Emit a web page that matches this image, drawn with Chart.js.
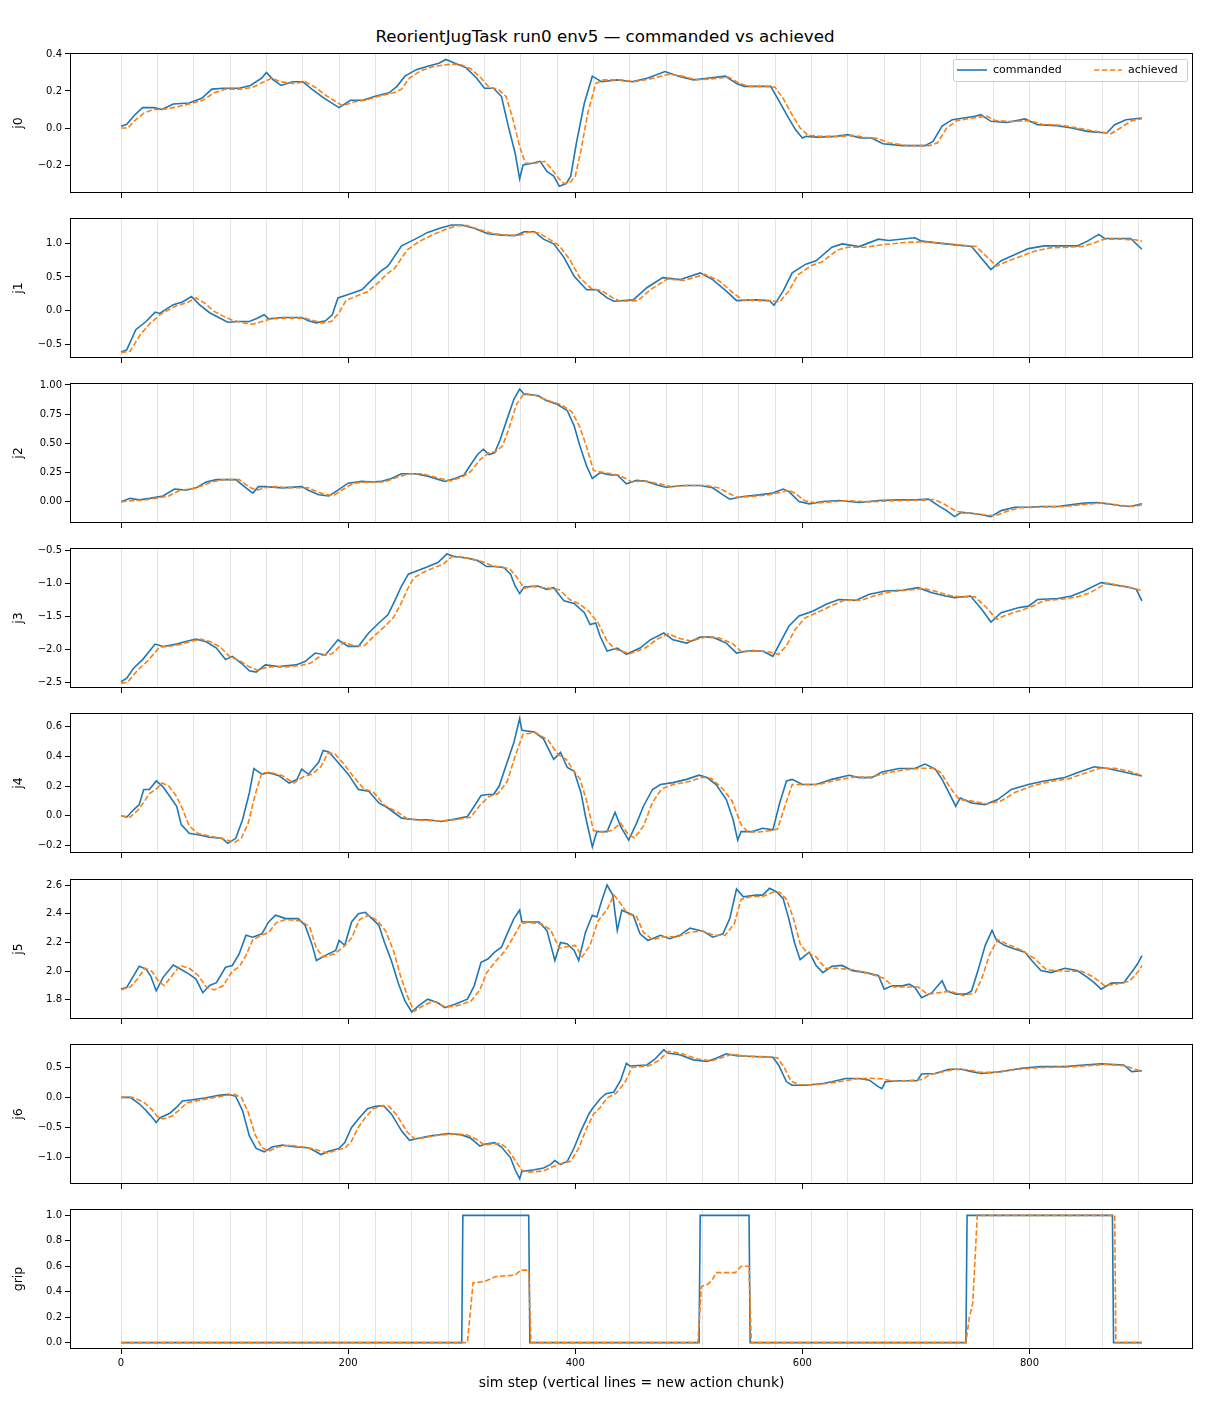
<!DOCTYPE html>
<html>
<head>
<meta charset="utf-8">
<script src="https://cdn.jsdelivr.net/npm/chart.js@4.4.1/dist/chart.umd.min.js"></script>
<style>
  body { margin: 0; background: #fff; width: 1210px; height: 1408px; position: relative; overflow: hidden; font-family: "DejaVu Sans", sans-serif; }
  #title { position: absolute; top: 26px; left: 0; width: 1210px; text-align: center; font-size: 16.7px; line-height: 20px; color: #000; }
  canvas { position: absolute; left: 0; }
</style>
</head>
<body>
<div id="title">ReorientJugTask run0 env5 — commanded vs achieved</div>
<script>
// [step, value]
const j0Cmd = [[0,0.01],[5,0.02],[12,0.07],[19,0.11],[29,0.11],[36,0.10],[46,0.13],[60,0.135],[71,0.16],[80,0.21],[90,0.215],[104,0.215],[114,0.23],[124,0.27],[128,0.30],[134,0.26],[141,0.23],[151,0.25],[160,0.25],[168,0.21],[179,0.16],[192,0.11],[202,0.15],[213,0.15],[223,0.17],[236,0.19],[243,0.225],[250,0.28],[260,0.315],[270,0.333],[280,0.35],[286,0.37],[294,0.35],[304,0.325],[313,0.27],[320,0.215],[328,0.215],[335,0.17],[341,0.01],[347,-0.135],[351,-0.275],[354,-0.20],[362,-0.19],[369,-0.18],[375,-0.235],[381,-0.26],[386,-0.315],[392,-0.30],[396,-0.26],[401,-0.08],[408,0.135],[415,0.28],[423,0.25],[437,0.26],[450,0.25],[464,0.27],[479,0.305],[491,0.28],[504,0.26],[518,0.27],[532,0.28],[542,0.24],[549,0.225],[562,0.225],[572,0.225],[579,0.15],[587,0.063],[594,-0.01],[600,-0.054],[603,-0.045],[613,-0.049],[630,-0.045],[640,-0.036],[651,-0.054],[661,-0.054],[671,-0.085],[688,-0.095],[708,-0.095],[715,-0.072],[723,0.01],[732,0.045],[742,0.054],[752,0.063],[757,0.072],[766,0.036],[780,0.03],[796,0.049],[807,0.018],[824,0.013],[837,0.0],[851,-0.018],[868,-0.027],[875,0.018],[885,0.045],[899,0.054]];
const j0Ach = [[0,0.0],[6,0.0],[12,0.04],[20,0.08],[28,0.10],[36,0.10],[46,0.11],[60,0.13],[72,0.15],[82,0.19],[92,0.21],[106,0.21],[116,0.22],[126,0.25],[133,0.27],[140,0.25],[152,0.24],[162,0.25],[171,0.22],[182,0.17],[195,0.12],[205,0.14],[215,0.15],[226,0.17],[240,0.19],[247,0.21],[254,0.27],[264,0.31],[274,0.33],[284,0.34],[292,0.345],[300,0.34],[308,0.32],[317,0.27],[324,0.22],[332,0.21],[339,0.17],[345,0.05],[351,-0.10],[356,-0.19],[365,-0.19],[373,-0.18],[379,-0.22],[385,-0.27],[390,-0.30],[396,-0.29],[400,-0.26],[405,-0.12],[411,0.08],[418,0.24],[425,0.26],[440,0.26],[452,0.25],[466,0.265],[482,0.29],[494,0.28],[506,0.26],[520,0.265],[535,0.275],[545,0.24],[553,0.225],[566,0.225],[576,0.22],[583,0.16],[591,0.07],[598,0.0],[605,-0.04],[616,-0.045],[634,-0.045],[644,-0.04],[655,-0.05],[665,-0.055],[676,-0.08],[692,-0.095],[712,-0.095],[719,-0.08],[727,0.0],[736,0.04],[746,0.05],[757,0.06],[762,0.065],[770,0.04],[784,0.035],[800,0.04],[811,0.02],[828,0.015],[842,0.0],[855,-0.015],[872,-0.03],[880,0.0],[890,0.04],[899,0.05]];

const j1Cmd = [[0,-0.61],[5,-0.58],[13,-0.28],[22,-0.16],[30,-0.02],[34,-0.04],[46,0.09],[54,0.13],[62,0.21],[69,0.09],[78,-0.03],[86,-0.10],[94,-0.17],[104,-0.16],[113,-0.16],[120,-0.11],[126,-0.06],[130,-0.12],[142,-0.10],[159,-0.10],[165,-0.15],[172,-0.18],[180,-0.15],[186,-0.06],[191,0.19],[200,0.24],[212,0.31],[221,0.46],[229,0.59],[235,0.66],[247,0.96],[259,1.06],[270,1.16],[282,1.23],[291,1.27],[300,1.27],[311,1.22],[323,1.14],[335,1.12],[347,1.11],[355,1.17],[364,1.17],[372,1.06],[381,0.99],[390,0.79],[399,0.51],[410,0.31],[419,0.31],[428,0.19],[434,0.14],[451,0.16],[463,0.34],[477,0.49],[492,0.46],[510,0.56],[521,0.46],[533,0.29],[542,0.15],[559,0.16],[571,0.15],[575,0.08],[583,0.29],[591,0.56],[603,0.69],[612,0.74],[626,0.94],[635,0.99],[650,0.95],[667,1.06],[676,1.04],[699,1.08],[705,1.03],[726,0.99],[749,0.95],[766,0.61],[775,0.74],[799,0.92],[813,0.96],[842,0.96],[851,1.03],[861,1.13],[866,1.07],[889,1.07],[899,0.91]];
const j1Ach = [[0,-0.62],[8,-0.60],[17,-0.35],[26,-0.18],[35,-0.05],[48,0.07],[58,0.12],[66,0.19],[73,0.12],[82,-0.01],[90,-0.08],[98,-0.14],[108,-0.18],[116,-0.20],[124,-0.16],[132,-0.12],[145,-0.11],[162,-0.11],[170,-0.15],[177,-0.18],[185,-0.16],[192,-0.03],[198,0.15],[206,0.21],[217,0.28],[226,0.41],[234,0.54],[241,0.63],[252,0.90],[263,1.03],[275,1.13],[287,1.21],[296,1.26],[305,1.26],[316,1.20],[328,1.14],[340,1.12],[351,1.12],[360,1.17],[368,1.15],[377,1.06],[386,0.96],[395,0.76],[404,0.49],[414,0.33],[423,0.30],[433,0.19],[440,0.14],[455,0.15],[467,0.32],[481,0.47],[496,0.45],[514,0.54],[526,0.45],[538,0.28],[547,0.16],[564,0.15],[576,0.14],[580,0.13],[588,0.29],[596,0.53],[608,0.67],[617,0.72],[631,0.90],[640,0.94],[655,0.94],[672,0.98],[690,1.01],[705,1.02],[730,0.99],[753,0.95],[771,0.66],[780,0.73],[804,0.88],[818,0.93],[846,0.95],[856,1.00],[866,1.06],[880,1.06],[893,1.05],[899,1.03]];

const j2Cmd = [[0,0.0],[8,0.03],[16,0.017],[25,0.03],[37,0.05],[47,0.11],[57,0.10],[66,0.12],[75,0.17],[84,0.19],[101,0.19],[110,0.12],[116,0.075],[121,0.13],[127,0.13],[142,0.12],[159,0.13],[165,0.10],[174,0.06],[183,0.05],[191,0.10],[200,0.16],[212,0.175],[221,0.17],[229,0.175],[238,0.20],[247,0.24],[259,0.24],[270,0.22],[285,0.175],[294,0.20],[302,0.23],[308,0.32],[314,0.405],[319,0.45],[324,0.405],[329,0.42],[334,0.535],[340,0.71],[346,0.88],[351,0.965],[355,0.92],[367,0.91],[375,0.865],[384,0.835],[393,0.78],[399,0.65],[404,0.48],[410,0.305],[415,0.20],[422,0.25],[431,0.23],[437,0.23],[445,0.155],[454,0.185],[463,0.175],[472,0.145],[480,0.125],[495,0.14],[510,0.14],[521,0.12],[530,0.06],[536,0.023],[548,0.046],[562,0.06],[574,0.075],[583,0.11],[588,0.09],[597,0.003],[606,-0.017],[618,0.003],[632,0.011],[650,-0.006],[667,0.011],[685,0.017],[699,0.017],[711,0.023],[720,-0.034],[727,-0.075],[734,-0.126],[740,-0.09],[749,-0.098],[758,-0.11],[766,-0.126],[775,-0.075],[787,-0.046],[799,-0.046],[810,-0.04],[825,-0.04],[836,-0.026],[848,-0.011],[860,-0.006],[869,-0.017],[880,-0.034],[889,-0.04],[899,-0.017]];
const j2Ach = [[0,0.0],[10,0.01],[20,0.015],[30,0.03],[42,0.05],[52,0.10],[62,0.11],[72,0.14],[80,0.17],[90,0.19],[104,0.19],[114,0.12],[120,0.10],[126,0.12],[135,0.13],[150,0.12],[165,0.12],[172,0.09],[180,0.06],[188,0.06],[196,0.11],[205,0.16],[218,0.17],[232,0.17],[243,0.21],[254,0.24],[265,0.24],[277,0.21],[290,0.18],[300,0.21],[308,0.26],[316,0.36],[324,0.42],[330,0.43],[336,0.48],[342,0.64],[348,0.83],[355,0.93],[365,0.91],[378,0.86],[388,0.83],[397,0.77],[404,0.64],[410,0.47],[416,0.27],[425,0.25],[438,0.23],[450,0.17],[460,0.18],[476,0.15],[485,0.13],[500,0.14],[515,0.14],[526,0.12],[536,0.07],[542,0.04],[555,0.045],[570,0.06],[580,0.08],[588,0.10],[594,0.07],[602,0.01],[612,-0.01],[625,0.0],[640,0.01],[660,0.0],[680,0.01],[705,0.015],[716,0.02],[725,-0.02],[735,-0.08],[748,-0.10],[760,-0.11],[770,-0.12],[780,-0.08],[792,-0.05],[810,-0.045],[830,-0.04],[850,-0.02],[865,-0.01],[880,-0.03],[892,-0.04],[899,-0.025]];

const j3Cmd = [[0,-2.495],[5,-2.44],[11,-2.29],[19,-2.16],[30,-1.925],[37,-1.96],[49,-1.925],[57,-1.885],[66,-1.85],[75,-1.89],[84,-1.985],[92,-2.16],[98,-2.11],[106,-2.215],[113,-2.33],[119,-2.35],[127,-2.24],[139,-2.265],[154,-2.24],[162,-2.19],[171,-2.06],[180,-2.09],[191,-1.86],[200,-1.96],[209,-1.96],[218,-1.757],[227,-1.605],[235,-1.48],[241,-1.27],[247,-1.045],[253,-0.866],[262,-0.805],[270,-0.754],[279,-0.69],[287,-0.56],[294,-0.60],[305,-0.62],[314,-0.66],[322,-0.75],[329,-0.75],[337,-0.765],[343,-0.866],[347,-1.045],[351,-1.16],[355,-1.06],[367,-1.045],[375,-1.095],[381,-1.07],[390,-1.27],[399,-1.31],[408,-1.45],[413,-1.63],[418,-1.605],[422,-1.81],[428,-2.03],[437,-1.985],[445,-2.08],[457,-1.985],[466,-1.86],[478,-1.757],[486,-1.86],[498,-1.91],[510,-1.82],[521,-1.82],[533,-1.91],[542,-2.06],[551,-2.03],[565,-2.03],[574,-2.11],[581,-1.885],[588,-1.655],[597,-1.50],[609,-1.426],[621,-1.32],[632,-1.25],[647,-1.263],[659,-1.17],[673,-1.12],[688,-1.11],[702,-1.07],[714,-1.146],[726,-1.197],[734,-1.22],[748,-1.197],[758,-1.40],[766,-1.59],[775,-1.45],[790,-1.375],[799,-1.35],[807,-1.25],[825,-1.233],[837,-1.197],[848,-1.12],[863,-0.994],[872,-1.02],[886,-1.06],[894,-1.095],[899,-1.27]];
const j3Ach = [[0,-2.52],[6,-2.50],[14,-2.33],[24,-2.17],[34,-1.97],[42,-1.96],[52,-1.93],[62,-1.88],[70,-1.85],[79,-1.89],[88,-1.98],[96,-2.12],[104,-2.17],[112,-2.26],[120,-2.32],[130,-2.27],[145,-2.27],[158,-2.25],[167,-2.21],[176,-2.10],[186,-2.07],[196,-1.90],[205,-1.95],[214,-1.95],[223,-1.80],[232,-1.66],[240,-1.52],[246,-1.33],[252,-1.10],[258,-0.92],[266,-0.84],[275,-0.77],[284,-0.71],[291,-0.60],[300,-0.61],[310,-0.64],[319,-0.68],[327,-0.74],[334,-0.76],[342,-0.78],[348,-0.90],[355,-1.08],[362,-1.05],[372,-1.07],[386,-1.10],[395,-1.25],[404,-1.32],[412,-1.43],[420,-1.60],[428,-1.88],[435,-2.00],[448,-2.07],[462,-1.98],[472,-1.85],[482,-1.77],[492,-1.84],[502,-1.88],[514,-1.82],[526,-1.83],[538,-1.91],[547,-2.05],[556,-2.02],[570,-2.04],[579,-2.08],[586,-1.95],[593,-1.72],[602,-1.53],[614,-1.44],[626,-1.34],[637,-1.26],[652,-1.26],[664,-1.19],[678,-1.13],[692,-1.11],[707,-1.08],[718,-1.13],[730,-1.19],[740,-1.21],[752,-1.21],[762,-1.37],[771,-1.55],[780,-1.48],[795,-1.40],[804,-1.34],[812,-1.27],[830,-1.24],[842,-1.21],[853,-1.15],[868,-1.00],[877,-1.03],[890,-1.07],[899,-1.12]];

const j4Cmd = [[0,0.0],[5,-0.01],[11,0.04],[16,0.075],[20,0.177],[25,0.177],[31,0.234],[37,0.195],[43,0.13],[49,0.064],[53,-0.06],[60,-0.118],[69,-0.13],[78,-0.145],[89,-0.152],[94,-0.186],[101,-0.152],[107,-0.027],[113,0.155],[117,0.318],[124,0.28],[130,0.29],[139,0.27],[148,0.22],[155,0.245],[159,0.314],[165,0.28],[174,0.36],[178,0.44],[183,0.43],[191,0.36],[200,0.28],[209,0.177],[218,0.166],[227,0.086],[235,0.052],[247,-0.016],[259,-0.027],[270,-0.027],[282,-0.039],[294,-0.023],[305,-0.005],[311,0.064],[317,0.136],[323,0.143],[328,0.143],[333,0.20],[340,0.36],[346,0.495],[351,0.655],[353,0.575],[364,0.564],[372,0.518],[381,0.38],[387,0.427],[393,0.325],[399,0.30],[405,0.155],[409,-0.005],[415,-0.21],[419,-0.107],[428,-0.107],[435,0.023],[440,-0.073],[447,-0.164],[454,-0.05],[460,0.064],[468,0.177],[475,0.21],[486,0.223],[498,0.245],[509,0.273],[516,0.257],[524,0.21],[533,0.109],[539,-0.027],[543,-0.164],[546,-0.107],[556,-0.107],[565,-0.084],[574,-0.095],[580,0.086],[586,0.234],[591,0.245],[600,0.21],[612,0.21],[626,0.245],[641,0.273],[650,0.257],[661,0.257],[670,0.295],[685,0.318],[699,0.318],[708,0.348],[717,0.314],[723,0.245],[729,0.155],[735,0.064],[739,0.12],[749,0.086],[761,0.075],[772,0.109],[784,0.177],[799,0.21],[813,0.234],[831,0.257],[842,0.29],[857,0.33],[869,0.318],[883,0.295],[892,0.28],[899,0.268]];
const j4Ach = [[0,0.0],[8,-0.01],[14,0.03],[20,0.09],[25,0.15],[31,0.18],[36,0.22],[42,0.20],[48,0.14],[54,0.05],[60,-0.07],[68,-0.12],[80,-0.14],[92,-0.16],[100,-0.18],[106,-0.15],[112,-0.05],[118,0.14],[124,0.29],[132,0.29],[142,0.27],[152,0.22],[160,0.26],[168,0.28],[176,0.33],[182,0.42],[188,0.42],[196,0.35],[205,0.26],[214,0.18],[222,0.16],[232,0.07],[242,0.03],[252,-0.02],[265,-0.03],[280,-0.035],[296,-0.025],[308,-0.01],[316,0.07],[324,0.13],[332,0.15],[340,0.23],[347,0.40],[354,0.55],[365,0.56],[376,0.51],[385,0.41],[392,0.38],[398,0.31],[404,0.25],[410,0.10],[416,-0.10],[424,-0.11],[432,-0.10],[440,-0.05],[446,-0.12],[452,-0.15],[460,-0.07],[468,0.09],[476,0.18],[486,0.21],[500,0.23],[512,0.26],[520,0.25],[530,0.18],[538,0.10],[546,-0.06],[552,-0.11],[562,-0.11],[572,-0.10],[578,-0.09],[584,0.05],[591,0.21],[600,0.21],[614,0.21],[630,0.24],[645,0.26],[660,0.26],[675,0.29],[690,0.31],[705,0.32],[715,0.32],[722,0.29],[730,0.19],[738,0.11],[748,0.10],[762,0.08],[775,0.10],[788,0.16],[802,0.20],[818,0.23],[835,0.25],[846,0.28],[862,0.32],[875,0.32],[888,0.30],[899,0.27]];

const j5Cmd = [[0,1.875],[5,1.887],[11,1.968],[16,2.034],[22,2.015],[26,1.968],[31,1.863],[37,1.957],[46,2.043],[51,2.02],[60,1.98],[66,1.945],[72,1.85],[78,1.90],[84,1.92],[92,2.027],[98,2.04],[104,2.12],[110,2.25],[116,2.237],[124,2.26],[130,2.343],[136,2.39],[145,2.366],[156,2.366],[162,2.32],[168,2.19],[172,2.074],[180,2.11],[189,2.144],[192,2.214],[197,2.18],[203,2.343],[209,2.40],[215,2.41],[221,2.366],[227,2.32],[232,2.20],[238,2.074],[244,1.92],[250,1.793],[256,1.716],[262,1.758],[270,1.805],[279,1.78],[285,1.746],[294,1.77],[305,1.805],[311,1.898],[317,2.062],[323,2.085],[329,2.132],[335,2.167],[340,2.26],[346,2.366],[351,2.425],[353,2.343],[361,2.343],[368,2.343],[375,2.284],[382,2.074],[387,2.20],[393,2.19],[399,2.144],[403,2.074],[409,2.272],[415,2.39],[419,2.378],[423,2.483],[428,2.60],[433,2.53],[437,2.284],[441,2.425],[451,2.39],[457,2.26],[464,2.214],[475,2.25],[483,2.226],[492,2.25],[501,2.30],[513,2.277],[521,2.237],[530,2.26],[536,2.366],[542,2.572],[548,2.518],[559,2.53],[565,2.53],[571,2.577],[577,2.553],[583,2.506],[588,2.366],[593,2.20],[598,2.08],[606,2.132],[612,2.04],[618,1.99],[626,2.034],[635,2.04],[644,2.004],[656,1.99],[667,1.968],[672,1.875],[679,1.898],[688,1.898],[694,1.91],[699,1.887],[705,1.816],[714,1.85],[723,1.933],[727,1.863],[735,1.84],[744,1.84],[749,1.863],[755,2.015],[761,2.18],[767,2.284],[771,2.214],[778,2.18],[786,2.156],[796,2.132],[802,2.074],[810,2.004],[819,1.99],[831,2.02],[842,2.004],[851,1.957],[857,1.92],[863,1.875],[872,1.917],[883,1.92],[892,2.015],[895,2.05],[899,2.109]];
const j5Ach = [[0,1.87],[8,1.89],[14,1.94],[21,2.02],[27,2.00],[33,1.93],[38,1.90],[45,1.97],[52,2.04],[60,2.02],[68,1.97],[75,1.89],[82,1.87],[90,1.90],[98,2.00],[104,2.03],[110,2.11],[116,2.22],[124,2.25],[130,2.27],[137,2.34],[145,2.36],[158,2.35],[166,2.31],[172,2.16],[178,2.10],[188,2.12],[196,2.17],[203,2.23],[210,2.36],[218,2.39],[226,2.35],[233,2.28],[240,2.14],[246,1.97],[252,1.83],[258,1.72],[266,1.76],[275,1.79],[286,1.75],[296,1.76],[308,1.79],[316,1.87],[322,1.99],[330,2.07],[338,2.14],[345,2.23],[352,2.33],[358,2.34],[370,2.33],[378,2.29],[386,2.16],[392,2.17],[400,2.18],[406,2.10],[413,2.18],[420,2.35],[428,2.43],[434,2.53],[440,2.47],[446,2.40],[454,2.38],[460,2.27],[468,2.22],[478,2.24],[490,2.24],[500,2.27],[512,2.28],[522,2.25],[532,2.25],[540,2.33],[546,2.50],[555,2.52],[565,2.52],[574,2.55],[580,2.55],[586,2.50],[592,2.37],[598,2.19],[604,2.13],[612,2.10],[620,2.02],[630,2.02],[645,2.01],[660,1.98],[672,1.95],[680,1.89],[692,1.89],[702,1.89],[710,1.84],[720,1.85],[730,1.86],[742,1.83],[752,1.85],[758,1.95],[765,2.12],[772,2.22],[780,2.19],[792,2.15],[804,2.09],[815,2.01],[830,2.00],[846,2.00],[856,1.96],[866,1.90],[876,1.91],[888,1.93],[896,2.00],[899,2.04]];

const j6Cmd = [[0,0.0],[8,0.0],[16,-0.107],[22,-0.22],[26,-0.305],[31,-0.42],[34,-0.345],[43,-0.265],[49,-0.164],[54,-0.062],[63,-0.04],[75,-0.006],[86,0.034],[95,0.05],[101,0.017],[107,-0.22],[113,-0.644],[119,-0.853],[126,-0.91],[133,-0.83],[142,-0.797],[154,-0.83],[165,-0.842],[171,-0.90],[176,-0.955],[183,-0.90],[192,-0.853],[197,-0.757],[203,-0.503],[209,-0.36],[217,-0.19],[224,-0.15],[231,-0.136],[238,-0.277],[247,-0.56],[254,-0.717],[262,-0.684],[273,-0.644],[288,-0.605],[300,-0.627],[308,-0.684],[316,-0.814],[320,-0.785],[329,-0.757],[335,-0.83],[343,-1.01],[347,-1.21],[351,-1.36],[353,-1.237],[364,-1.21],[372,-1.18],[378,-1.124],[382,-1.056],[387,-1.124],[393,-1.068],[399,-0.842],[405,-0.56],[412,-0.277],[415,-0.19],[422,-0.023],[427,0.062],[434,0.09],[440,0.288],[445,0.57],[448,0.525],[463,0.542],[470,0.638],[478,0.797],[481,0.74],[492,0.712],[504,0.627],[516,0.60],[524,0.655],[533,0.729],[542,0.695],[556,0.684],[574,0.672],[579,0.542],[586,0.26],[591,0.203],[603,0.203],[618,0.232],[626,0.26],[638,0.316],[650,0.316],[659,0.288],[667,0.175],[670,0.147],[673,0.26],[685,0.277],[701,0.277],[705,0.39],[717,0.40],[729,0.47],[740,0.47],[749,0.43],[758,0.40],[775,0.43],[793,0.486],[810,0.514],[831,0.514],[848,0.542],[863,0.56],[883,0.542],[890,0.43],[899,0.446]];
const j6Ach = [[0,0.0],[10,0.0],[20,-0.08],[27,-0.2],[32,-0.32],[37,-0.36],[45,-0.31],[52,-0.20],[58,-0.09],[68,-0.05],[80,-0.01],[92,0.03],[100,0.05],[106,0.0],[112,-0.25],[118,-0.62],[124,-0.84],[130,-0.90],[138,-0.83],[148,-0.80],[160,-0.83],[170,-0.86],[176,-0.90],[182,-0.93],[190,-0.88],[197,-0.85],[203,-0.73],[209,-0.50],[215,-0.34],[222,-0.19],[230,-0.14],[236,-0.15],[243,-0.30],[252,-0.58],[259,-0.70],[268,-0.67],[280,-0.63],[294,-0.61],[305,-0.63],[313,-0.70],[320,-0.80],[326,-0.78],[334,-0.77],[340,-0.85],[347,-1.05],[353,-1.22],[360,-1.25],[372,-1.23],[380,-1.16],[388,-1.10],[396,-1.07],[403,-0.85],[409,-0.56],[416,-0.28],[422,-0.17],[428,-0.01],[436,0.07],[444,0.26],[450,0.50],[465,0.53],[474,0.62],[482,0.77],[494,0.73],[508,0.64],[520,0.61],[530,0.67],[538,0.72],[550,0.69],[566,0.68],[578,0.66],[584,0.50],[590,0.27],[598,0.21],[610,0.21],[625,0.24],[635,0.27],[648,0.31],[660,0.32],[670,0.31],[680,0.27],[694,0.28],[706,0.30],[712,0.38],[722,0.42],[734,0.47],[746,0.46],[756,0.42],[770,0.42],[790,0.47],[812,0.50],[835,0.51],[852,0.53],[866,0.55],[884,0.53],[893,0.47],[899,0.44]];

const gripCmd = [[0,0],[300,0],[301,1],[359,1],[360,0],[509,0],[510,1],[553,1],[554,0],[744,0],[745,1],[873,1],[874,0],[899,0]];
const gripAch = [[0,0],[305,0],[310,0.47],[320,0.48],[330,0.52],[347,0.53],[352,0.57],[359,0.57],[361,0],[508,0],[511,0.44],[517,0.46],[521,0.50],[524,0.55],[541,0.55],[546,0.60],[553,0.60],[555,0],[744,0],[747,0.2],[750,0.31],[754,1.0],[875,1.0],[876,0],[899,0]];

// action chunk boundaries and tick labels
const chunkStarts = [0,32,64,96,128,160,192,224,256,288,320,352,384,416,448,480,512,544,576,608,640,672,704,736,768,800,832,864,896];
const xTicks = [0,200,400,600,800];
const j0Ticks = [-0.2,0.0,0.2,0.4];
const j1Ticks = [-0.5,0.0,0.5,1.0];
const j2Ticks = [0.0,0.25,0.5,0.75,1.0];
const j3Ticks = [-2.5,-2.0,-1.5,-1.0,-0.5];
const j4Ticks = [-0.2,0.0,0.2,0.4,0.6];
const j5Ticks = [1.8,2.0,2.2,2.4,2.6];
const j6Ticks = [-1.0,-0.5,0.0,0.5];
const gripTicks = [0.0,0.2,0.4,0.6,0.8,1.0];

const panels = [
  { name: 'j0', cmd: j0Cmd, ach: j0Ach, min: -0.351, max: 0.405, ticks: j0Ticks, dec: 1 },
  { name: 'j1', cmd: j1Cmd, ach: j1Ach, min: -0.70, max: 1.373, ticks: j1Ticks, dec: 1 },
  { name: 'j2', cmd: j2Cmd, ach: j2Ach, min: -0.181, max: 1.017, ticks: j2Ticks, dec: 2 },
  { name: 'j3', cmd: j3Cmd, ach: j3Ach, min: -2.59, max: -0.469, ticks: j3Ticks, dec: 1 },
  { name: 'j4', cmd: j4Cmd, ach: j4Ach, min: -0.251, max: 0.692, ticks: j4Ticks, dec: 1 },
  { name: 'j5', cmd: j5Cmd, ach: j5Ach, min: 1.667, max: 2.642, ticks: j5Ticks, dec: 1 },
  { name: 'j6', cmd: j6Cmd, ach: j6Ach, min: -1.448, max: 0.892, ticks: j6Ticks, dec: 1 },
  { name: 'grip', cmd: gripCmd, ach: gripAch, min: -0.05, max: 1.05, ticks: gripTicks, dec: 1 }
];

Chart.defaults.font.family = '"DejaVu Sans", sans-serif';
Chart.defaults.color = '#000';

const toXY = (pairs) => pairs.map(([x, y]) => ({ x, y }));
const fmt = (v, dec) => v.toFixed(dec).replace('-', '\u2212');

// black box around the axes, like matplotlib spines
const framePlugin = {
  id: 'frame',
  afterDatasetsDraw(chart) {
    const { ctx, chartArea: a } = chart;
    ctx.save();
    ctx.strokeStyle = '#000';
    ctx.lineWidth = 1;
    ctx.strokeRect(Math.round(a.left) + 0.5, Math.round(a.top) + 0.5,
      Math.round(a.right - a.left) - 1, Math.round(a.bottom - a.top) - 1);
    ctx.restore();
  }
};

const legendPlugin = {
  id: 'boxLegend',
  afterDraw(chart) {
    const { ctx, chartArea: a } = chart;
    const w = 234, h = 22;
    const x0 = a.right - 6 - w, y0 = a.top + 6, ym = y0 + h / 2;
    ctx.save();
    ctx.fillStyle = 'rgba(255,255,255,0.8)';
    ctx.strokeStyle = '#cccccc';
    ctx.lineWidth = 1;
    ctx.beginPath();
    ctx.roundRect(x0 + 0.5, y0 + 0.5, w, h, 2);
    ctx.fill();
    ctx.stroke();
    ctx.lineWidth = 1.6;
    ctx.strokeStyle = '#1f77b4';
    ctx.beginPath(); ctx.moveTo(x0 + 4, ym); ctx.lineTo(x0 + 34, ym); ctx.stroke();
    ctx.strokeStyle = '#ff7f0e';
    ctx.setLineDash([5.5, 2.4]);
    ctx.beginPath(); ctx.moveTo(x0 + 141, ym); ctx.lineTo(x0 + 169, ym); ctx.stroke();
    ctx.setLineDash([]);
    ctx.fillStyle = '#000';
    ctx.font = '11px "DejaVu Sans", sans-serif';
    ctx.textBaseline = 'middle';
    ctx.fillText('commanded', x0 + 40, ym);
    ctx.fillText('achieved', x0 + 175, ym);
    ctx.restore();
  }
};

panels.forEach((p, i) => {
  const last = i === panels.length - 1;
  const plotTop = Math.round(53 + i * 165.1);
  const canvas = document.createElement('canvas');
  const height = 8 + 140 + (last ? 45 : 6);
  canvas.width = 1210;
  canvas.height = height;
  canvas.style.width = '1210px';
  canvas.style.height = height + 'px';
  canvas.style.top = (plotTop - 8) + 'px';
  document.body.appendChild(canvas);

  new Chart(canvas, {
    type: 'line',
    data: {
      datasets: [
        {
          label: 'achieved',
          data: toXY(p.ach),
          borderColor: '#ff7f0e',
          borderWidth: 1.6,
          borderDash: [5.5, 2.4],
          pointRadius: 0,
          order: 0
        },
        {
          label: 'commanded',
          data: toXY(p.cmd),
          borderColor: '#1f77b4',
          borderWidth: 1.6,
          pointRadius: 0,
          order: 1
        }
      ]
    },
    options: {
      responsive: false,
      animation: false,
      layout: { padding: { left: 0, right: 17, top: 8, bottom: 0 } },
      scales: {
        x: {
          type: 'linear',
          min: -44.95,
          max: 943.95,
          bounds: 'data',
          afterBuildTicks: (s) => {
            const vals = [...new Set([...chunkStarts, ...xTicks])].sort((a, b) => a - b);
            s.ticks = vals.map(v => ({ value: v }));
          },
          afterFit: (s) => {
            s.height = last ? 45 : 6;
            s.paddingLeft = 0;
            s.paddingRight = 0;
          },
          border: { display: false },
          grid: {
            drawTicks: true,
            tickLength: 5,
            tickWidth: 1,
            lineWidth: 0.8,
            color: (c) => chunkStarts.includes(c.tick.value) ? 'rgba(128,128,128,0.28)' : 'rgba(0,0,0,0)',
            tickColor: (c) => xTicks.includes(c.tick.value) ? '#000' : 'rgba(0,0,0,0)'
          },
          ticks: {
            display: last,
            autoSkip: false,
            maxRotation: 0,
            padding: 3,
            font: { size: 10 },
            callback: (v) => xTicks.includes(v) ? String(v) : ''
          },
          title: {
            display: last,
            text: 'sim step (vertical lines = new action chunk)',
            font: { size: 13.9 },
            padding: { top: 4, bottom: 2 }
          }
        },
        y: {
          type: 'linear',
          min: p.min,
          max: p.max,
          bounds: 'data',
          afterBuildTicks: (s) => { s.ticks = p.ticks.map(v => ({ value: v })); },
          afterFit: (s) => {
            s.width = 70;
            s.paddingTop = 0;
            s.paddingBottom = 0;
          },
          border: { display: false },
          grid: { drawOnChartArea: false, drawTicks: true, tickLength: 5, tickWidth: 1, tickColor: '#000' },
          ticks: { font: { size: 10 }, padding: 3, callback: (v) => fmt(v, p.dec) },
          title: { display: true, text: p.name, font: { size: 12.5 }, padding: { top: 11, bottom: 0 } }
        }
      },
      plugins: {
        legend: { display: false },
        tooltip: { enabled: false }
      }
    },
    plugins: i === 0 ? [framePlugin, legendPlugin] : [framePlugin]
  });
});
</script>
</body>
</html>
